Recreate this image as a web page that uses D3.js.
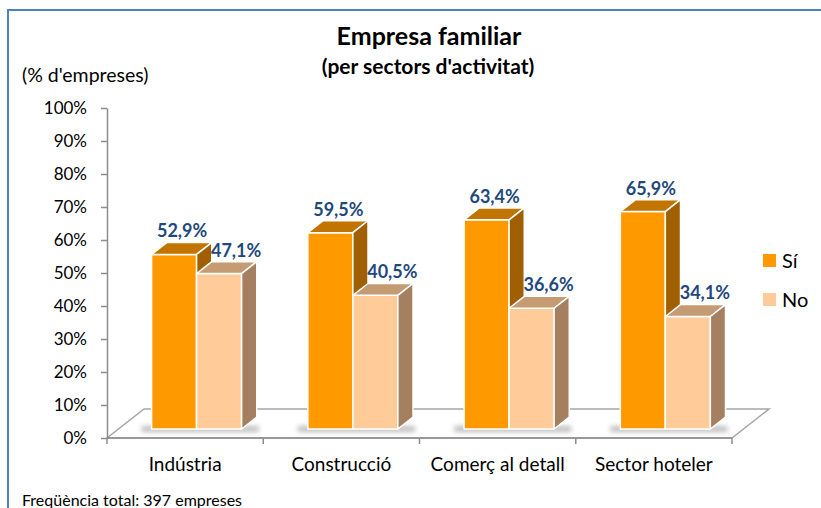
<!DOCTYPE html>
<html>
<head>
<meta charset="utf-8">
<script src="https://cdn.jsdelivr.net/npm/d3@7"></script>
<style>
  body { margin: 0; background: #fff; }
  svg { display: block; font-family: Lato, "Open Sans", sans-serif; }
</style>
</head>
<body>
<svg id="canvas" width="821" height="508"></svg>
<script>
let categories = ["Indústria", "Construcció", "Comerç al detall", "Sector hoteler"];
let seriesNames = ["Sí", "No"];
let siValues = [52.9, 59.5, 63.4, 65.9];
let noValues = [47.1, 40.5, 36.6, 34.1];
let yTicks = [0, 10, 20, 30, 40, 50, 60, 70, 80, 90, 100];

let svg = d3.select("#canvas");

// colours per series: front, top, side
let colors = {
    "Sí": { front: "#ff9900", top: "#c27400", side: "#a05f00" },
    "No": { front: "#ffcc99", top: "#c49b73", side: "#a47f60" }
};

// frame
svg.append("path")
    .attr("d", "M8,508 L8,10 L821,10")
    .attr("fill", "none")
    .attr("stroke", "#4f81bd")
    .attr("stroke-width", 2);

// blur for bar shadows
svg.append("defs").append("filter")
    .attr("id", "blur")
    .attr("x", "-20%").attr("y", "-100%").attr("width", "140%").attr("height", "300%")
    .append("feGaussianBlur").attr("stdDeviation", 2.5);

let left = 107, right = 732, bottom = 438;
let depth = { dx: 37, dy: -29 };   // full floor depth
let z0 = 0.31, z1 = 0.72;           // bar depth range

let x = d3.scaleBand().domain(categories).range([left, right]);
let y = d3.scaleLinear().domain([0, 100]).range([bottom, bottom - 330]);
let xs = d3.scaleBand().domain(seriesNames).range([0, 90]);

// floor
let floor = [[left, bottom], [right, bottom], [right + depth.dx, bottom + depth.dy], [left + depth.dx, bottom + depth.dy]];
svg.append("polygon")
    .attr("points", floor.map(p => p.join(",")).join(" "))
    .attr("fill", "#fff")
    .attr("stroke", "#a6a6a6")
    .attr("stroke-width", 1.5);

// y axis
let yAxis = d3.axisLeft(y).tickValues(yTicks).tickFormat(d => d + "%").tickSize(6).tickSizeOuter(0);
let gy = svg.append("g").attr("transform", "translate(" + left + ",0)").call(yAxis);
gy.select(".domain").attr("stroke", "#8c8c8c").attr("stroke-width", 1.5);
gy.selectAll(".tick line").attr("stroke", "#8c8c8c").attr("stroke-width", 1.5);
gy.selectAll(".tick text")
    .attr("x", -20)
    .attr("fill", "#000")
    .style("font-size", "17px")
    .style("font-family", "Lato, sans-serif");

// category axis (front edge of floor)
svg.append("line")
    .attr("x1", left).attr("x2", right).attr("y1", bottom).attr("y2", bottom)
    .attr("stroke", "#8c8c8c").attr("stroke-width", 1.5);
let bounds = categories.map(c => x(c)).concat([right]);
svg.selectAll(".ctick").data(bounds).enter().append("line")
    .attr("x1", d => d).attr("x2", d => d)
    .attr("y1", bottom).attr("y2", bottom + 6)
    .attr("stroke", "#8c8c8c").attr("stroke-width", 1.5);
svg.selectAll(".clabel").data(categories).enter().append("text")
    .attr("x", d => x(d) + x.bandwidth() / 2)
    .attr("y", 471)
    .attr("text-anchor", "middle")
    .style("font-size", "19px")
    .text(d => d);

// bars
let bars = [];
categories.forEach((c, i) => {
    bars.push({ cat: c, series: "Sí", value: siValues[i] });
    bars.push({ cat: c, series: "No", value: noValues[i] });
});

let fdx = depth.dx * z0, fdy = depth.dy * z0;
let bdx = depth.dx * (z1 - z0), bdy = depth.dy * (z1 - z0);
let groupPad = (x.bandwidth() - 90) / 2;

bars.forEach(b => {
    b.x0 = x(b.cat) + groupPad + xs(b.series) + fdx;
    b.x1 = b.x0 + xs.bandwidth();
    b.yb = y(0) + fdy;
    b.yt = y(b.value) + fdy;
});

// shadows
svg.selectAll(".shadow").data(bars.filter(b => b.series === "Sí")).enter().append("rect")
    .attr("x", b => b.x0 - 10)
    .attr("y", b => b.yb - 3)
    .attr("width", 90 + bdx + 12)
    .attr("height", 6)
    .attr("fill", "#8a8a8a")
    .attr("opacity", 0.55)
    .attr("filter", "url(#blur)");

let pts = arr => arr.map(p => p.join(",")).join(" ");

let block = svg.selectAll(".bar").data(bars).enter().append("g").attr("class", "bar");

block.append("polygon")
    .attr("points", b => pts([[b.x0, b.yb], [b.x1, b.yb], [b.x1, b.yt], [b.x0, b.yt]]))
    .attr("fill", b => colors[b.series].front)
    .attr("stroke", "#fff").attr("stroke-width", 1.5).attr("stroke-linejoin", "round");
block.append("polygon")
    .attr("points", b => pts([[b.x0, b.yt], [b.x1, b.yt], [b.x1 + bdx, b.yt + bdy], [b.x0 + bdx, b.yt + bdy]]))
    .attr("fill", b => colors[b.series].top)
    .attr("stroke", "#fff").attr("stroke-width", 1.5).attr("stroke-linejoin", "round");
block.append("polygon")
    .attr("points", b => pts([[b.x1, b.yb], [b.x1 + bdx, b.yb + bdy], [b.x1 + bdx, b.yt + bdy], [b.x1, b.yt]]))
    .attr("fill", b => colors[b.series].side)
    .attr("stroke", "#fff").attr("stroke-width", 1.5).attr("stroke-linejoin", "round");

// value labels
svg.selectAll(".vlabel").data(bars).enter().append("text")
    .attr("x", b => (b.x0 + b.x1) / 2 + (b.series === "Sí" ? 8 : 17))
    .attr("y", b => b.yt - 17)
    .attr("text-anchor", "middle")
    .attr("fill", "#1f497d")
    .style("font-size", "18px")
    .style("font-weight", "bold")
    .text(b => b.value.toFixed(1).replace(".", ",") + "%");

// legend
let legend = svg.selectAll(".legend").data(seriesNames).enter().append("g")
    .attr("transform", (d, i) => "translate(763," + (254 + i * 39) + ")");
legend.append("rect")
    .attr("width", 13).attr("height", 13)
    .attr("fill", d => colors[d].front);
legend.append("text")
    .attr("x", 19).attr("y", 14)
    .style("font-size", "20px")
    .text(d => d);

// titles
svg.append("text")
    .attr("x", 429).attr("y", 45)
    .attr("text-anchor", "middle")
    .style("font-size", "25px").style("font-weight", "bold")
    .text("Empresa familiar");
svg.append("text")
    .attr("x", 428).attr("y", 74)
    .attr("text-anchor", "middle")
    .style("font-size", "21px").style("font-weight", "bold")
    .text("(per sectors d'activitat)");
svg.append("text")
    .attr("x", 22).attr("y", 82)
    .style("font-size", "19.5px")
    .text("(% d'empreses)");
svg.append("text")
    .attr("x", 22).attr("y", 506)
    .style("font-size", "16px")
    .text("Freqüència total: 397 empreses");
</script>
</body>
</html>
